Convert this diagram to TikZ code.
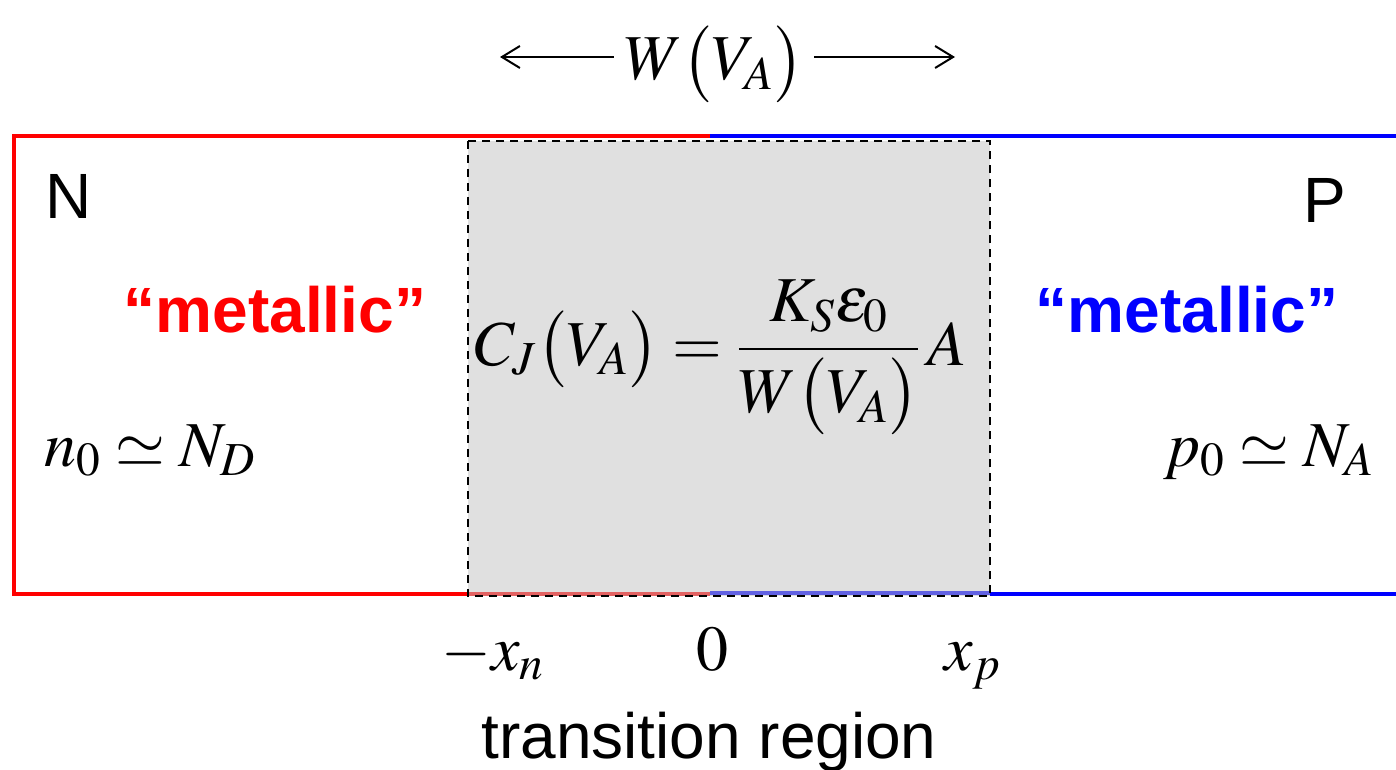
\documentclass[tikz,border=0pt]{standalone}
\usepackage{amsmath}
\usepackage{mathptmx}
\usepackage[no-math]{fontspec}
\setmainfont{Liberation Sans}
\usetikzlibrary{arrows.meta}
\definecolor{nred}{RGB}{255,0,0}
\definecolor{pblue}{RGB}{0,0,255}
\definecolor{boxgray}{RGB}{224,224,224}
\definecolor{fadered}{RGB}{226,98,98}
\definecolor{fadeblue}{RGB}{98,98,226}

\begin{document}
\begin{tikzpicture}[x=0.5pt,y=-0.5pt,
  side/.style={line width=2pt},
  txt/.style={inner sep=0pt,anchor=base,font=\fontsize{32}{38}\selectfont},
  metal/.style={txt,font=\fontsize{32}{38}\selectfont\bfseries},
  eqn/.style={inner sep=0pt,anchor=base,font=\fontsize{32}{38}\selectfont},
  warrow/.style={line width=1pt,-{Straight Barb[length=9pt,width=11pt]}}]
  \useasboundingbox (0,0) rectangle (1396,770);
  % the two sides of the junction
  \draw[side,nred] (710,136) -- (14,136) -- (14,594) -- (468,594);
  \draw[side,pblue] (710,136) -- (1396,136);
  \draw[side,pblue] (990,594) -- (1396,594);
  % transition region
  \fill[boxgray] (468,141) rectangle (990,596);
  \draw[side,fadered] (468,594) -- (710,594);
  \draw[side,fadeblue] (710,593) -- (990,593);
  \draw[line width=1pt,dash pattern=on 4pt off 3pt] (468,141) rectangle (990,596);
  % labels
  \node[txt] (nside) at (69,219) {N};
  \node[txt] (pside) at (1325,222) {P};
  \node[metal,nred] (nmetal) at (275,332) {“metallic”};
  \node[metal,pblue] (pmetal) at (1187,332) {“metallic”};
  \node[eqn] (ndop) at (150,466) {$n_0 \simeq N_D$};
  \node[eqn] (pdop) at (1269,466) {$p_0 \simeq N_A$};
  \node[eqn] (cj) at (721,365) {$C_J\bigl(V_A\bigr)=\dfrac{K_S\varepsilon_0}{W\bigl(V_A\bigr)}\,A$};
  % width of the region
  \node[eqn,inner xsep=5pt] (wtop) at (714,80) {$W\bigl(V_A\bigr)$};
  \coordinate (wleft) at (500,57);
  \coordinate (wright) at (955,57);
  \draw[warrow] (wtop.west |- wleft) -- (wleft);
  \draw[warrow] (wtop.east |- wright) -- (wright);
  % edges of the region
  \node[eqn] (xn) at (493,670) {$-x_n$};
  \node[eqn] (zero) at (712,670) {$0$};
  \node[eqn] (xp) at (973,670) {$x_p$};
  \node[txt] (trans) at (709,758) {transition region};
\end{tikzpicture}
\end{document}
